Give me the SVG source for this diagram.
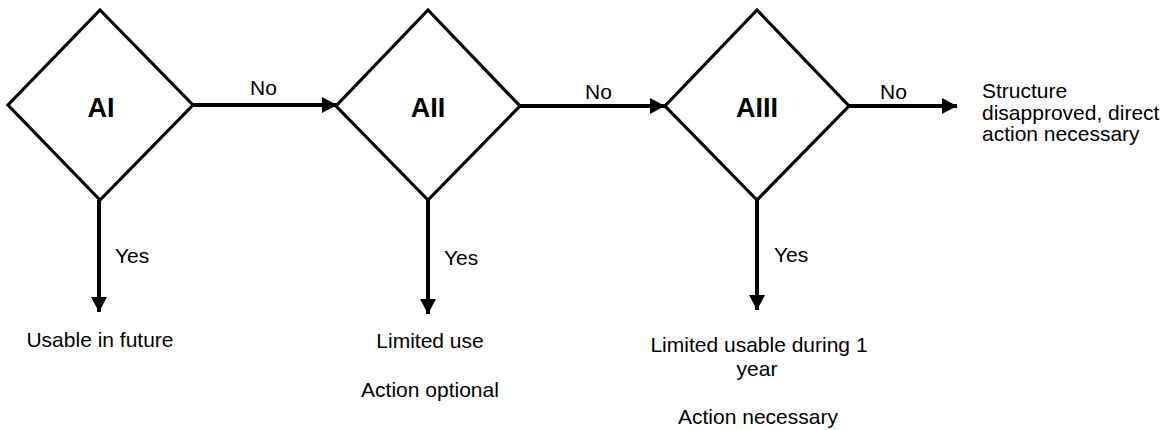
<svg xmlns="http://www.w3.org/2000/svg" width="1168" height="430" viewBox="0 0 1168 430">
<style>
.d{fill:#fff;stroke:#000;stroke-width:3.2;stroke-linejoin:miter}
.c{stroke:#000;stroke-width:4;fill:none}
.b{font-family:"Liberation Sans",Arial,sans-serif;font-weight:bold;font-size:27px;fill:#000;text-anchor:middle}
.t{font-family:"Liberation Sans",Arial,sans-serif;font-size:21px;fill:#000}
.m{text-anchor:middle}
</style>
<defs>
<marker id="ah" markerUnits="userSpaceOnUse" markerWidth="16" markerHeight="16" viewBox="0 0 16 16" refX="15" refY="8" orient="auto">
<path d="M0,0 L15,8 L0,16 Z" fill="#000"/>
</marker>
</defs>
<rect width="1168" height="430" fill="#fff"/>
<g id="connectors">
<line class="c" x1="193" y1="105" x2="337" y2="105" marker-end="url(#ah)"/>
<line class="c" x1="520" y1="106" x2="665" y2="106" marker-end="url(#ah)"/>
<line class="c" x1="849" y1="106" x2="957" y2="106" marker-end="url(#ah)"/>
<line class="c" x1="99" y1="200" x2="99" y2="312" marker-end="url(#ah)"/>
<line class="c" x1="428" y1="200" x2="428" y2="314" marker-end="url(#ah)"/>
<line class="c" x1="757" y1="200" x2="757" y2="310" marker-end="url(#ah)"/>
<text class="t" x="250" y="95">No</text>
<text class="t" x="585" y="99">No</text>
<text class="t" x="880" y="99">No</text>
<text class="t" x="115" y="263">Yes</text>
<text class="t" x="444" y="265">Yes</text>
<text class="t" x="774" y="262">Yes</text>
</g>
<g id="AI">
<polygon class="d" points="100,10 193,105 100,200 8,105"/>
<text class="b" x="101" y="117">AI</text>
</g>
<g id="AII">
<polygon class="d" points="428,10 520,106 428,200 336,106"/>
<text class="b" x="428" y="117">AII</text>
</g>
<g id="AIII">
<polygon class="d" points="757,10 849,106 757,200 665,106"/>
<text class="b" x="757" y="117">AIII</text>
</g>
<g id="usable">
<text class="t m" x="100" y="347">Usable in future</text>
</g>
<g id="limited">
<text class="t m" x="430" y="348">Limited use</text>
<text class="t m" x="430" y="397">Action optional</text>
</g>
<g id="limited1year">
<text class="t m" x="759" y="352">Limited usable during 1</text>
<text class="t m" x="757" y="376">year</text>
<text class="t m" x="758" y="424">Action necessary</text>
</g>
<g id="disapproved">
<text class="t" x="982" y="98">Structure</text>
<text class="t" x="982" y="120">disapproved, direct</text>
<text class="t" x="982" y="141">action necessary</text>
</g>
</svg>
